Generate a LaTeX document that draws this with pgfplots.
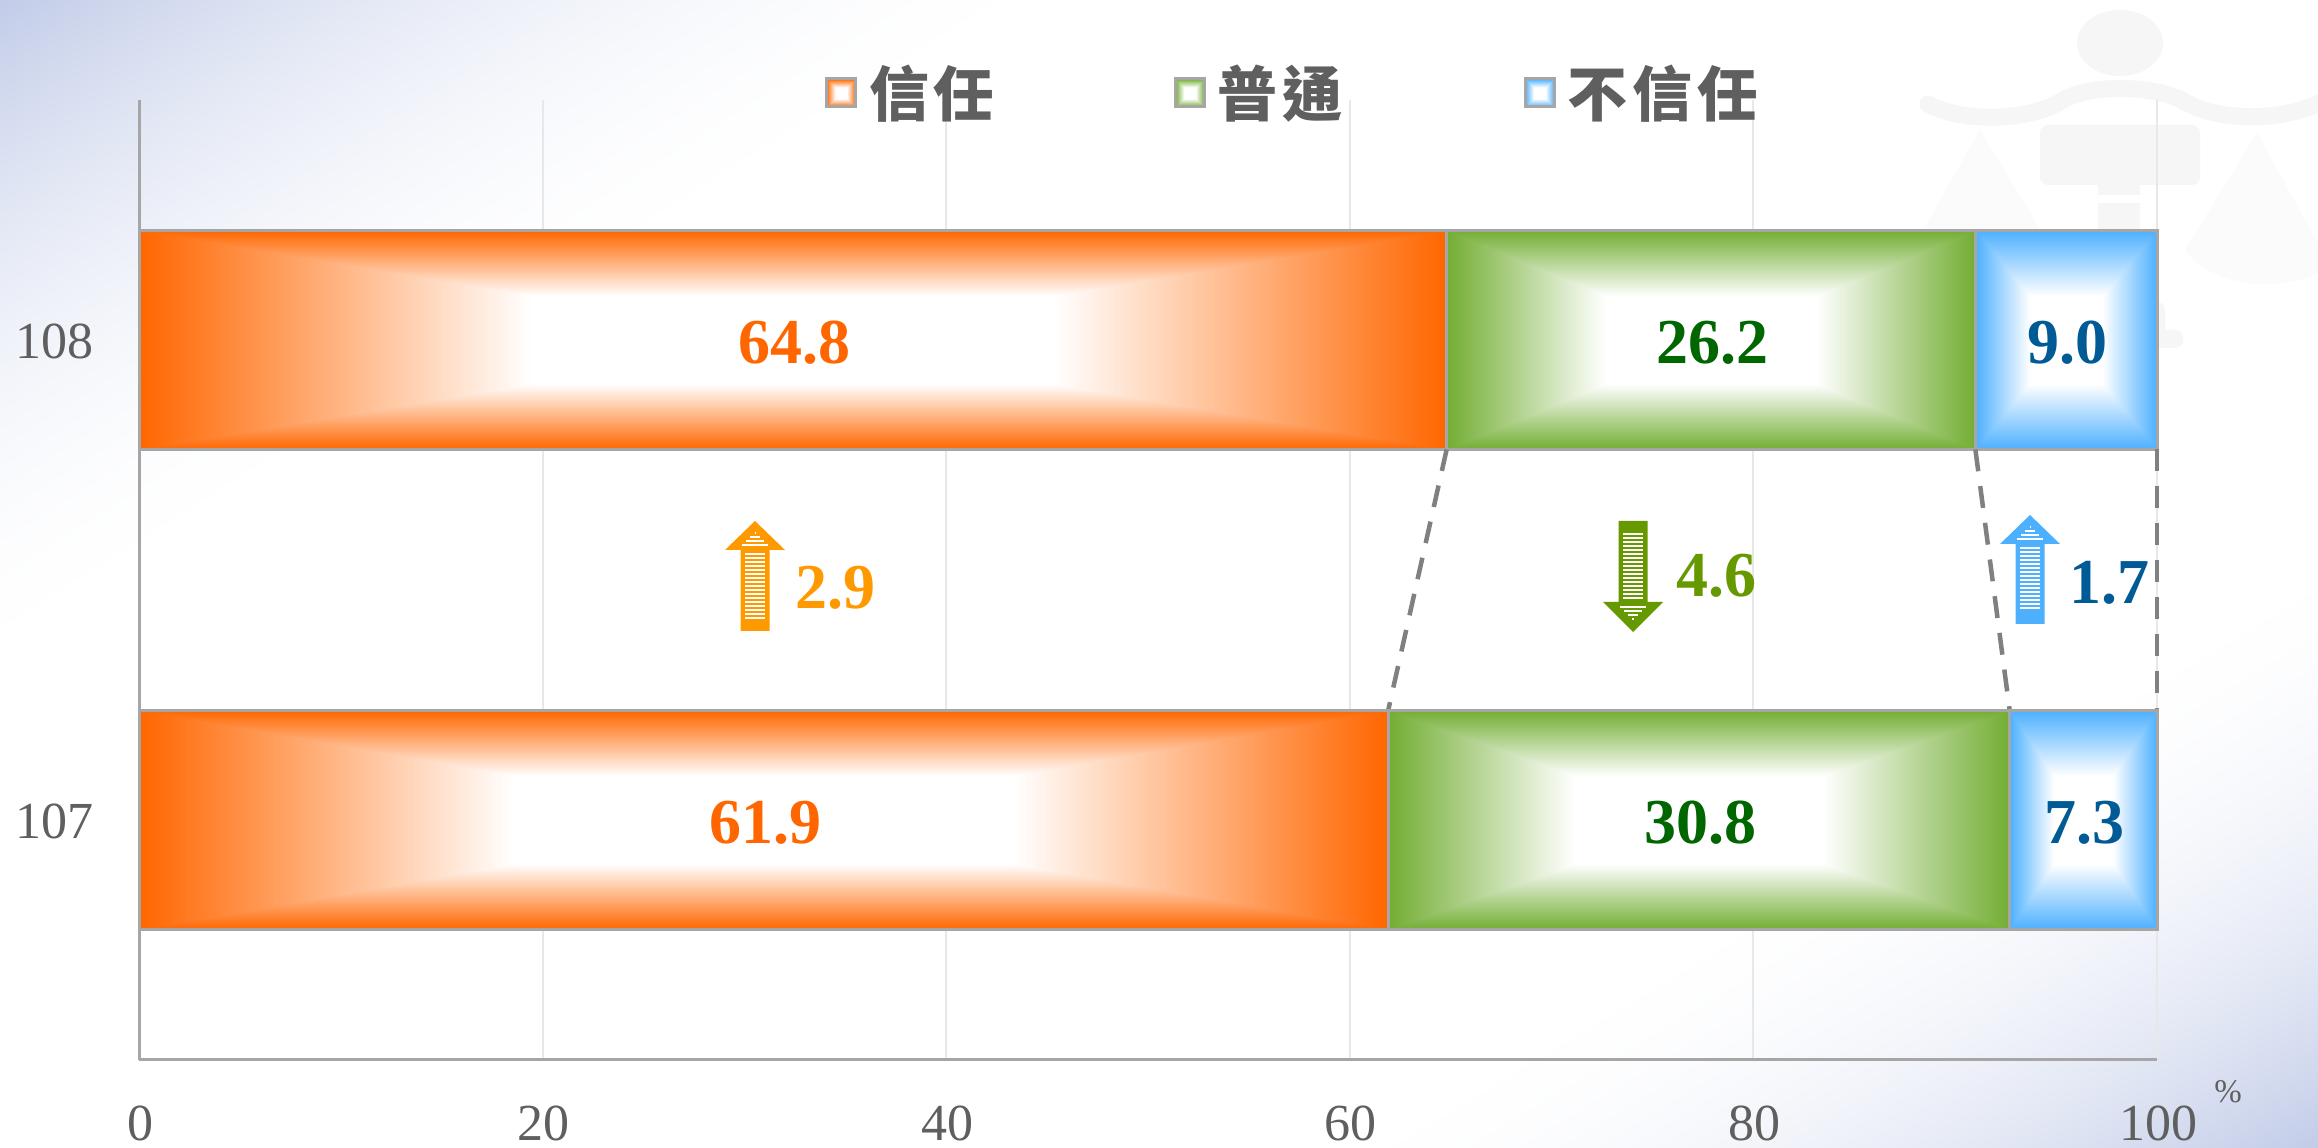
\documentclass[border=0pt]{standalone}
\usepackage{pgfplots}
\usepackage{fontspec}
\pgfplotsset{compat=1.18}
\setmainfont{Liberation Serif}
\newfontfamily\cjk{Noto Sans CJK TC}[LetterSpace=8.0]
\definecolor{txt}{HTML}{5F5F5F}
\definecolor{brd}{HTML}{A6A6A6}
\definecolor{wm}{HTML}{F6F6F6}
\definecolor{wmb}{HTML}{FBFBFB}
\definecolor{lblO}{HTML}{FF6600}
\definecolor{lblG}{HTML}{006600}
\definecolor{lblB}{HTML}{005A96}
\definecolor{arrowO}{HTML}{FF9900}
\definecolor{arrowG}{HTML}{669900}
\definecolor{arrowB}{HTML}{4DB0FF}
\pgfdeclarefunctionalshading{pagebg}{\pgfpoint{-50bp}{-50bp}}{\pgfpoint{50bp}{50bp}}{}{
 25 exch sub 50 div
 exch 25 add 50 div exch
 2 copy
 1.65 mul exch 2.1 mul add
 3 1 roll
 1 exch sub 1.85 mul
 exch 1 exch sub 2.25 mul add
 2 copy gt {exch} if pop
 dup 1 gt {pop 1} if
 1 exch sub dup mul 1 exch sub
 dup 0.24 mul 0.76 add exch dup 0.20 mul 0.80 add exch 0.09 mul 0.91 add
}
\newcommand{\declbar}[4]{%
\pgfdeclarefunctionalshading{#1}{\pgfpoint{-50bp}{-50bp}}{\pgfpoint{50bp}{50bp}}{}{
 abs exch abs
 2 copy lt {exch} if pop
 25 div
 0.4 sub 0.6 div
 dup 0 lt {pop 0} if
 dup 1 gt {pop 1} if
 dup #2 mul 1 exch sub exch
 dup #3 mul 1 exch sub exch
 #4 mul 1 exch sub
}}
\declbar{orangebar}{0.0}{0.6}{1.0}
\declbar{greenbar}{0.55}{0.32}{0.80}
\declbar{bluebar}{0.70}{0.31}{0.0}
\newcommand{\sarrow}[5]{%
 \pgfmathsetmacro{\sg}{(#3-#2)>0?1:-1}%
 \fill[#5] ({#1-14.5},#4) -- ({#1-14.5},#3) -- ({#1-30},#3) -- (#1,#2) -- ({#1+30},#3) -- ({#1+14.5},#3) -- ({#1+14.5},#4) -- cycle;
 \pgfmathtruncatemacro{\nst}{floor((abs(#4-#3)-17)/4)}%
 \foreach \k in {0,...,\nst}{
   \pgfmathsetmacro{\yy}{#3+\sg*(3+4*\k)}
   \fill[white] ({#1-10},{\yy}) rectangle ({#1+10},{\yy+\sg*2});
 }
 \foreach \d in {4,8,12,16}{
   \pgfmathsetmacro{\yy}{#3-\sg*\d}
   \pgfmathsetmacro{\hw}{(abs(#3-#2)-\d)/abs(#3-#2)*30-13}
   \fill[white] ({#1-\hw},{\yy}) rectangle ({#1+\hw},{\yy-\sg*2});
 }
}
\pgfplotsset{common/.style={
 at={(139pt,88pt)},anchor=south west,
 scale only axis,width=2018pt,height=960pt,
 xmin=0,xmax=100,ymin=-0.5,ymax=1.5,
 clip=false,
 xbar stacked,bar width=219pt,
}}
\begin{document}
\begin{tikzpicture}[x=1pt,y=1pt]
\path[use as bounding box] (0,0) rectangle (2318,1148);
\path[shade,shading=pagebg] (0,0) rectangle (2318,1148);
% watermark
\begin{scope}[shift={(0,1148)},y=-1pt]
 \clip (0,0) rectangle (2318,1148);
 \fill[wmb] (1980,130) -- (1905,262) -- (2060,262) -- cycle;
 \fill[wmb] (2257,133) -- (2185,250) .. controls (2215,290) and (2290,295) .. (2330,265) -- cycle;
 \fill[wm] (2120,43) ellipse [x radius=43,y radius=33];
 \draw[wm,line width=17pt,line cap=round] (1928,104) .. controls (1960,122) and (2025,122) .. (2060,102) .. controls (2085,84) and (2155,84) .. (2185,102) .. controls (2220,122) and (2285,122) .. (2325,100);
 \fill[wm,rounded corners=8pt] (2040,125) rectangle (2200,185);
 \fill[wm] (2098,185) rectangle (2140,195);
 \fill[wm] (2098,203) rectangle (2140,240);
 \fill[wm,rounded corners=8pt] (2100,330) rectangle (2183,348);
 \fill[wm,rounded corners=8pt] (2120,302) rectangle (2165,340);
\end{scope}
\begin{axis}[common,
 axis x line*=bottom,axis y line*=left,
 axis line style={brd,line width=3pt,-},
 xtick={0,20,40,60,80,100},ytick={0,1},yticklabels={107,108},
 major tick length=0pt,
 xmajorgrids,major grid style={draw=black!9,line width=2pt},
 /pgf/number format/assume math mode=true,
 tick label style={font=\fontsize{52}{60}\selectfont,text=txt,inner sep=0pt},
 xticklabel style={anchor=north,xshift=1pt,yshift=-46pt},
 yticklabel style={anchor=east,xshift=-45pt,yshift=-1pt},
 legend columns=3,
 legend image code/.code={\path[#1] (0pt,-14pt) rectangle (29pt,14pt);},
 legend style={draw=none,fill=none,inner sep=0pt,outer sep=0pt,
   at={(axis cs:34,1.5)},anchor=west,yshift=7pt,
   font=\cjk\bfseries\fontsize{60}{66}\selectfont,text=txt,
   nodes={inner sep=0pt}},
]
\addplot[shade,shading=orangebar,draw=brd,line width=3pt] coordinates {(64.8,1)};
\addlegendentry{\hspace*{12pt}\raisebox{3pt}{信任}\hspace*{180pt}}
\addplot[shade,shading=greenbar,draw=brd,line width=3pt] coordinates {(26.2,1)};
\addlegendentry{\hspace*{12pt}\raisebox{3pt}{普通}\hspace*{181pt}}
\addplot[shade,shading=bluebar,draw=brd,line width=3pt] coordinates {(9.0,1)};
\addlegendentry{\hspace*{12pt}\raisebox{3pt}{不信任}}
\end{axis}
\begin{axis}[common,hide axis,
 after end axis/.code={
  \tikzset{vl/.style={font=\bfseries\fontsize{64}{70}\selectfont,inner sep=0pt,xshift=1.5pt,yshift=-3pt}}
  \node[vl,text=lblO] at (axis cs:32.4,1) {64.8};
  \node[vl,text=lblG] at (axis cs:77.9,1) {26.2};
  \node[vl,text=lblB] at (axis cs:95.5,1) {9.0};
  \node[vl,text=lblO] at (axis cs:30.95,0) {61.9};
  \node[vl,text=lblG] at (axis cs:77.3,0) {30.8};
  \node[vl,text=lblB] at (axis cs:96.35,0) {7.3};
 },
]
\addplot[forget plot,shade,shading=orangebar,draw=brd,line width=3pt] coordinates {(61.9,0)};
\addplot[forget plot,shade,shading=greenbar,draw=brd,line width=3pt] coordinates {(30.8,0)};
\addplot[forget plot,shade,shading=bluebar,draw=brd,line width=3pt] coordinates {(7.3,0)};
\addplot[sharp plot,stack plots=false,forget plot,draw=gray,line width=4.5pt,dash pattern=on 22pt off 15pt] coordinates {(64.8,0.772) (61.9,0.228)};
\addplot[sharp plot,stack plots=false,forget plot,draw=gray,line width=4.5pt,dash pattern=on 22pt off 15pt] coordinates {(91.0,0.772) (92.7,0.228)};
\addplot[sharp plot,stack plots=false,forget plot,draw=gray,line width=4.5pt,dash pattern=on 22pt off 15pt] coordinates {(100,0.772) (100,0.228)};
\end{axis}
\begin{scope}[shift={(0,1148)},y=-1pt]
 \sarrow{755}{521}{550}{631}{arrowO}
 \sarrow{1633}{632}{602}{521}{arrowG}
 \sarrow{2030}{515}{544}{624}{arrowB}
 \tikzset{vl2/.style={font=\bfseries\fontsize{64}{70}\selectfont,inner sep=0pt}}
 \node[vl2,text=arrowO] at (835,588) {2.9};
 \node[vl2,text=arrowG] at (1716,576) {4.6};
 \node[vl2,text=lblB] at (2109,583) {1.7};
 \node[font=\fontsize{33}{36}\selectfont,text=txt,inner sep=0pt] at (2228,1092) {\%};
\end{scope}
\end{tikzpicture}
\end{document}
